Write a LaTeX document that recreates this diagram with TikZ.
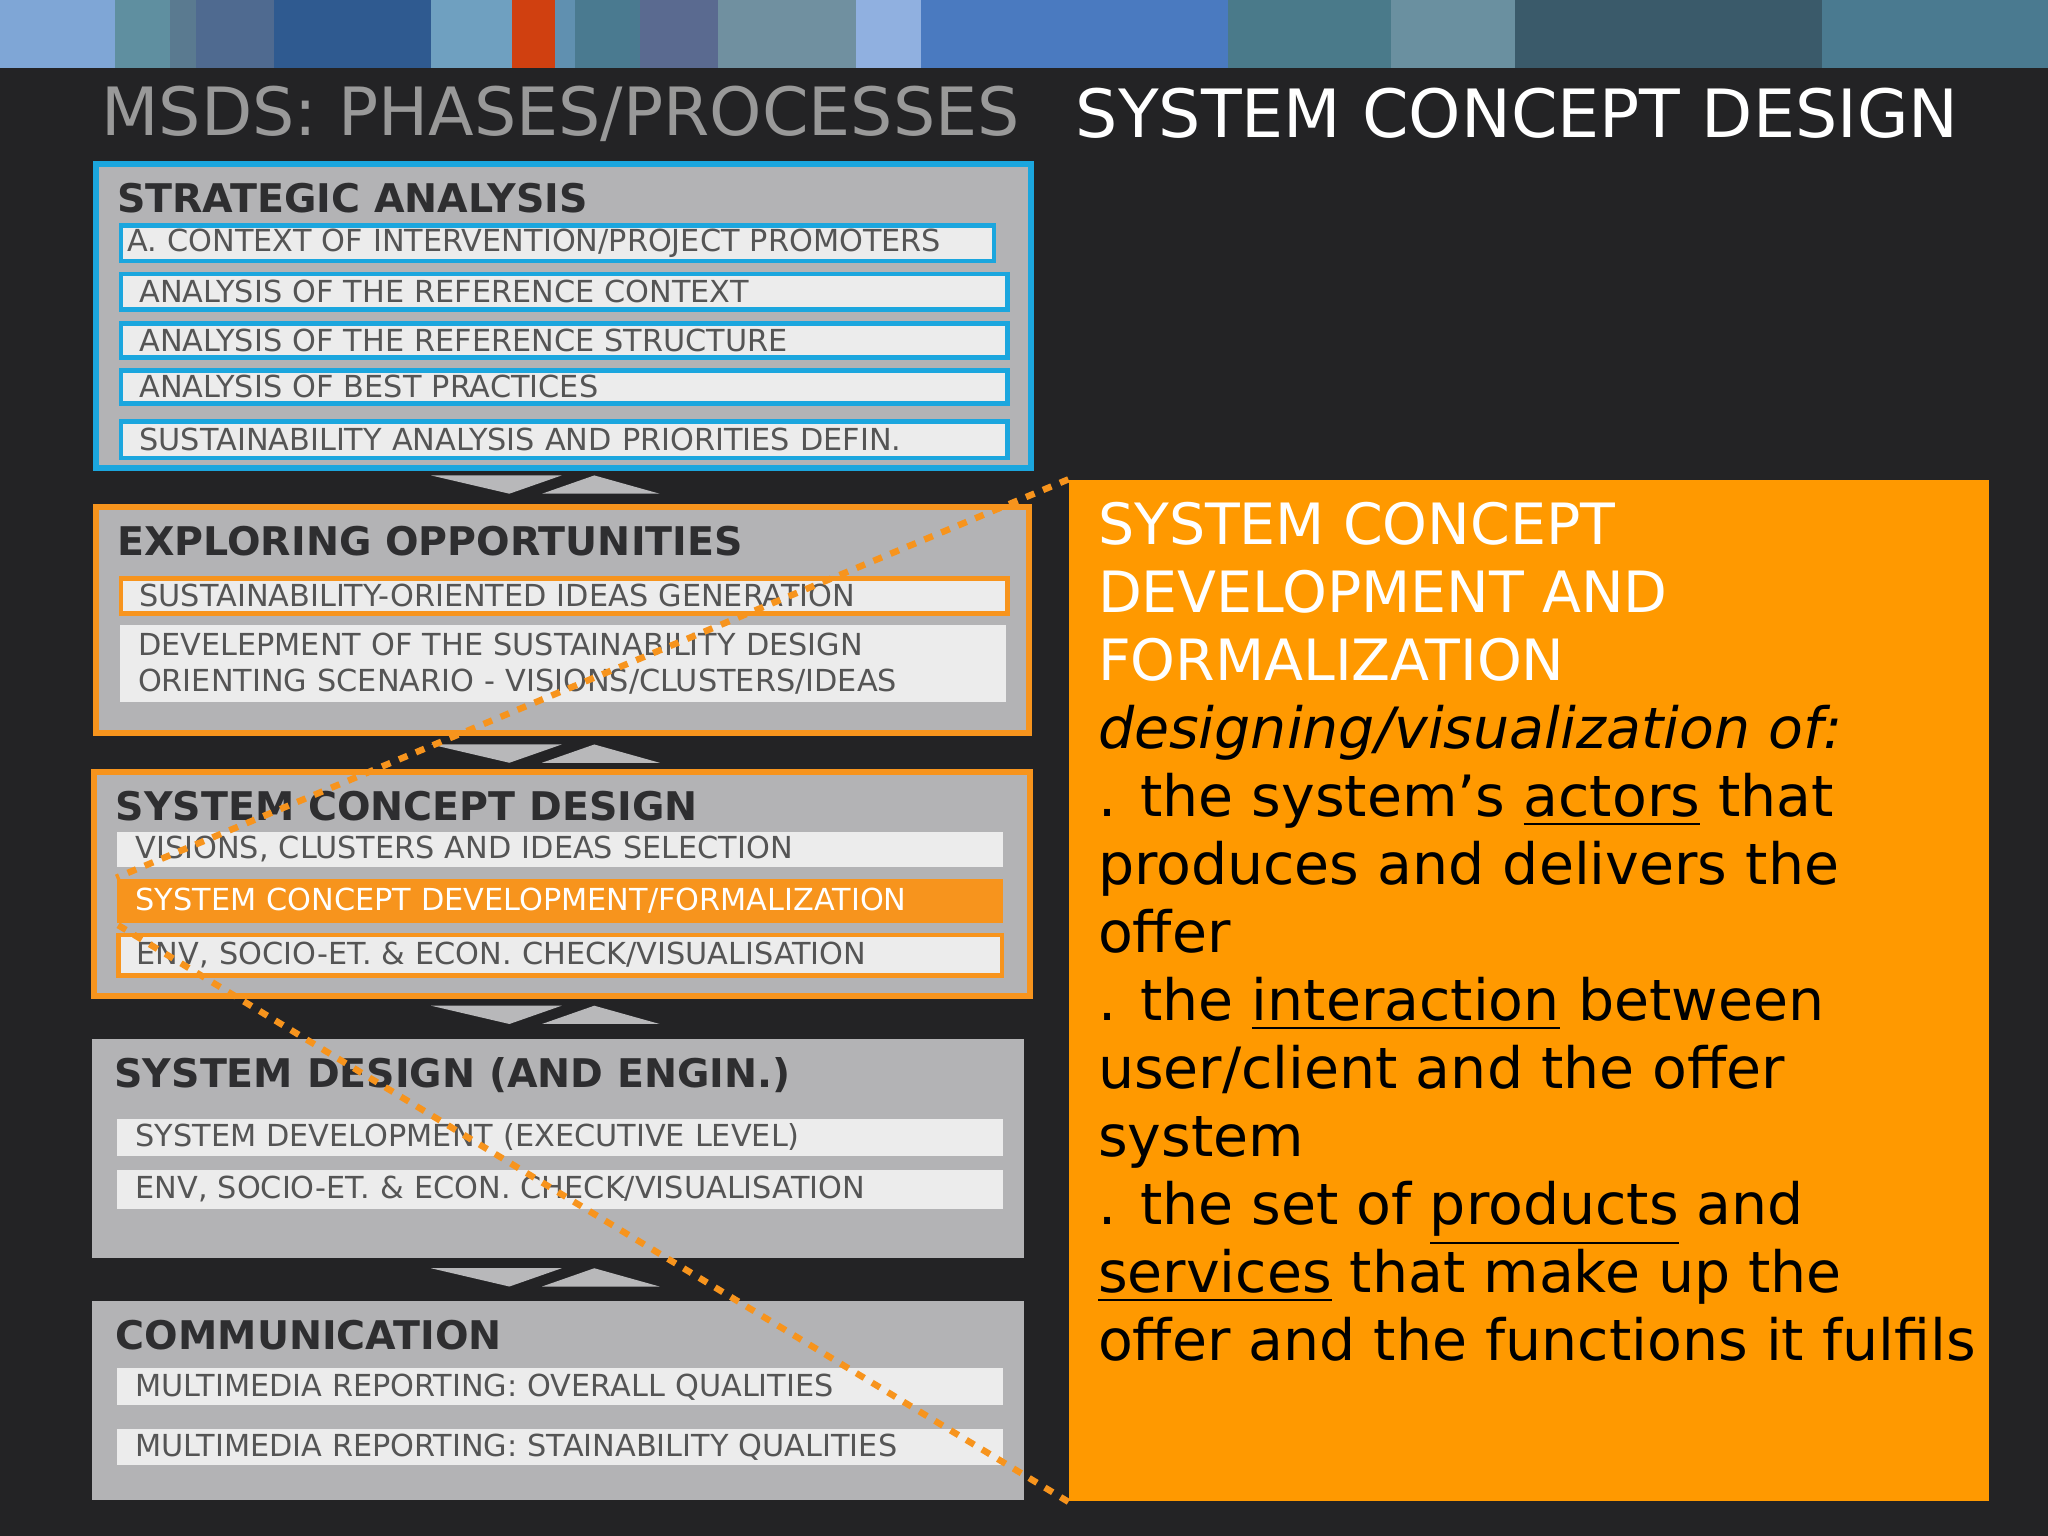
\documentclass[tikz,border=0pt]{standalone}
\usepackage{fontspec}
\setmainfont{DejaVu Sans}
\begin{document}
\begin{tikzpicture}[x=0.01cm,y=-0.01cm,
 panel/.style={anchor=north west,inner sep=0,fill=panelgray},
 rowbox/.style={anchor=north west,fill=rowwhite,text width=6.5cm,inner xsep=0.14cm,inner ysep=0,align=left,font=\fontsize{6.6}{7}\selectfont,text=txtgray},
 ttl/.style={anchor=west,font=\bfseries\fontsize{8.6}{9}\selectfont,text=titledark,inner sep=0},
 tri/.style={fill=trigray,draw=none},
 dots/.style={draw=orangeA,line width=1.4pt,dash pattern=on 2pt off 2pt}]
\definecolor{bg}{HTML}{232325}
\definecolor{panelgray}{HTML}{B3B3B5}
\definecolor{rowwhite}{HTML}{ECECEC}
\definecolor{txtgray}{HTML}{555555}
\definecolor{titledark}{HTML}{2E2E30}
\definecolor{blueB}{HTML}{1BA6DE}
\definecolor{orangeA}{HTML}{F7941D}
\definecolor{orangeBig}{HTML}{FF9900}
\definecolor{trigray}{HTML}{B8B8BA}
\fill[bg] (0,0) rectangle (1568,1176);
% top strip
\foreach \a/\b/\c in {0/88/7FA6D6,88/130/5F8FA0,130/150/5A7A90,150/210/4F6A90,210/330/2F5A90,330/392/6FA0C0,392/425/D04010,425/440/6090B0,440/490/4A7A90,490/550/5A6A90,550/655/7090A0,655/705/90B0E0,705/940/4A7AC0,940/1065/4A7A8A,1065/1160/6A90A0,1160/1395/3A5A6A,1395/1568/4A7A90}
 {\definecolor{tmp}{HTML}{\c}\fill[tmp] (\a,0) rectangle (\b,52);}
\node[anchor=west,inner sep=0,text=gray!80,font=\fontsize{14.5}{16}\selectfont] (t1) at (77,87) {MSDS: PHASES/PROCESSES};
\node[anchor=west,inner sep=0,text=white,font=\fontsize{14.5}{16}\selectfont] (t2) at (823,87) {SYSTEM CONCEPT DESIGN};
% strategic
\node[panel,draw=blueB,line width=1.3pt,minimum width=7.16cm,minimum height=2.33cm] (p1) at (71,123) {};
\node[ttl] (h1) at (89,152) {STRATEGIC ANALYSIS};
\node[rowbox,draw=blueB,line width=1pt,minimum height=0.27cm,text width=6.58cm,inner xsep=0.05cm] (a1) at (91,171) {A. CONTEXT OF INTERVENTION/PROJECT PROMOTERS};
\node[rowbox,draw=blueB,line width=1pt,minimum height=0.27cm] (a2) at (91,208) {ANALYSIS OF THE REFERENCE CONTEXT};
\node[rowbox,draw=blueB,line width=1pt,minimum height=0.26cm] (a3) at (91,246) {ANALYSIS OF THE REFERENCE STRUCTURE};
\node[rowbox,draw=blueB,line width=1pt,minimum height=0.25cm] (a4) at (91,282) {ANALYSIS OF BEST PRACTICES};
\node[rowbox,draw=blueB,line width=1pt,minimum height=0.28cm] (a5) at (91,321) {SUSTAINABILITY ANALYSIS AND PRIORITIES DEFIN.};
\foreach \y in {364,570,770,971}{
 \fill[tri] (330,\y) -- (430,\y) -- (390,\y+14) -- cycle;
 \fill[tri] (415,\y+14) -- (505,\y+14) -- (455,\y) -- cycle;}
% exploring
\node[panel,draw=orangeA,line width=1.3pt,minimum width=7.14cm,minimum height=1.73cm] (p2) at (71,386) {};
\node[ttl] (h2) at (89,414) {EXPLORING OPPORTUNITIES};
\node[rowbox,draw=orangeA,line width=1pt,minimum height=0.27cm] (b1) at (91,441) {SUSTAINABILITY-ORIENTED IDEAS GENERATION};
\node[rowbox,minimum height=0.59cm] (b2) at (91,478) {DEVELEPMENT OF THE SUSTAINABILITY DESIGN\\[0.7pt]ORIENTING SCENARIO - VISIONS/CLUSTERS/IDEAS};
% system concept
\node[panel,draw=orangeA,line width=1.3pt,minimum width=7.16cm,minimum height=1.71cm] (p3) at (70,589) {};
\node[ttl] (h3) at (88,617) {SYSTEM CONCEPT DESIGN};
\node[rowbox,minimum height=0.27cm] (c1) at (89,636) {VISIONS, CLUSTERS AND IDEAS SELECTION};
\node[rowbox,fill=orangeA,text=white,minimum height=0.34cm] (c2) at (89,672) {SYSTEM CONCEPT DEVELOPMENT/FORMALIZATION};
\node[rowbox,draw=orangeA,line width=1pt,minimum height=0.31cm,text width=6.48cm] (c3) at (89,714) {ENV, SOCIO-ET. \& ECON. CHECK/VISUALISATION};
% system design
\node[panel,minimum width=7.13cm,minimum height=1.67cm] (p4) at (70,795) {};
\node[ttl] (h4) at (87,823) {SYSTEM DESIGN (AND ENGIN.)};
\node[rowbox,minimum height=0.28cm] (d1) at (89,856) {SYSTEM DEVELOPMENT (EXECUTIVE LEVEL)};
\node[rowbox,minimum height=0.30cm] (d2) at (89,895) {ENV, SOCIO-ET. \& ECON. CHECK/VISUALISATION};
% communication
\node[panel,minimum width=7.13cm,minimum height=1.53cm] (p5) at (70,995) {};
\node[ttl] (h5) at (88,1022) {COMMUNICATION};
\node[rowbox,minimum height=0.28cm] (e1) at (89,1047) {MULTIMEDIA REPORTING: OVERALL QUALITIES};
\node[rowbox,minimum height=0.28cm] (e2) at (89,1093) {MULTIMEDIA REPORTING: STAINABILITY QUALITIES};
% big orange
\node[anchor=north west,fill=orangeBig,minimum width=7.04cm,minimum height=7.81cm,inner sep=0] (big) at (818,367) {};
\node[anchor=north west,inner sep=0,align=left,font=\fontsize{12.4}{14.8}\selectfont] (bt) at (840,384) {%
{\color{white}SYSTEM CONCEPT}\\{\color{white}DEVELOPMENT AND}\\{\color{white}FORMALIZATION}\\
\textit{designing/visualization of:}\\
. the system’s \underline{actors} that\\produces and delivers the\\offer\\
. the \underline{interaction} between\\user/client and the offer\\system\\
. the set of \underline{products} and\\\underline{services} that make up the\\offer and the functions it fulfils};
\draw[dots] (big.north west) -- (c2.north west);
\draw[dots] (big.south west) -- (c2.south west);
\end{tikzpicture}
\end{document}
